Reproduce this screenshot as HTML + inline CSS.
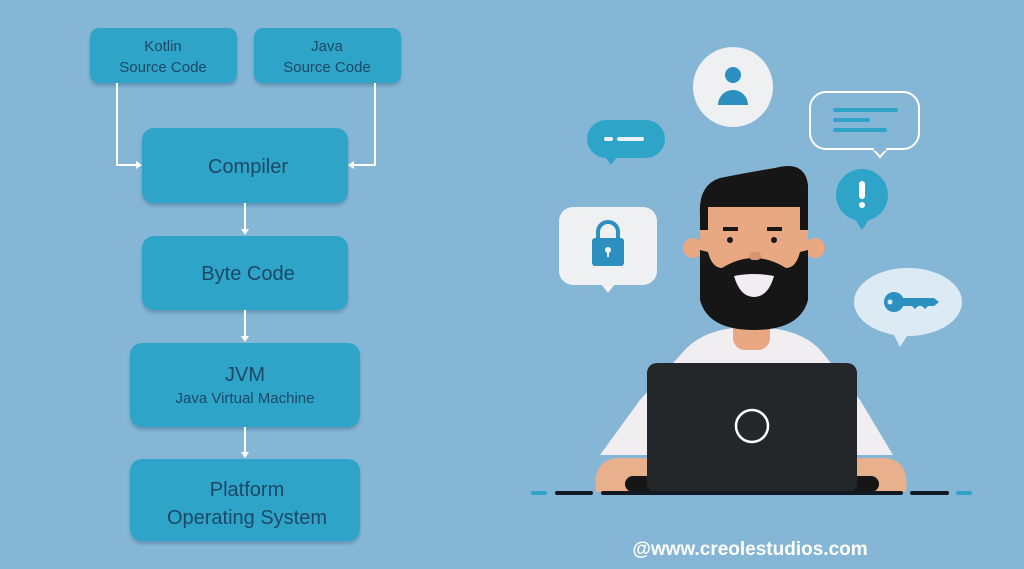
<!DOCTYPE html>
<html><head><meta charset="utf-8"><style>
html,body{margin:0;padding:0;background:#86b6d6;}
svg{display:block}
text{font-family:"Liberation Sans",sans-serif;}
</style></head><body>
<svg width="1024" height="569" viewBox="0 0 1024 569" xmlns="http://www.w3.org/2000/svg">
<rect width="1024" height="569" fill="#86b6d6"/>
<defs>
<filter id="sh" x="-10%" y="-10%" width="120%" height="130%"><feDropShadow dx="0" dy="3" stdDeviation="1.5" flood-color="#3a6f8f" flood-opacity="0.45"/></filter>
</defs>
<g fill="#2ea5c8" filter="url(#sh)">
<rect x="90" y="28" width="147" height="55" rx="9"/>
<rect x="254" y="28" width="147" height="55" rx="9"/>
<rect x="142" y="128" width="206" height="75" rx="12"/>
<rect x="142" y="236" width="206" height="74" rx="12"/>
<rect x="130" y="343" width="230" height="84" rx="12"/>
<rect x="130" y="459" width="230" height="82" rx="12"/>
</g>
<g fill="#1c4866" text-anchor="middle">
<text x="163" y="51" font-size="15">Kotlin</text>
<text x="163" y="72" font-size="15">Source Code</text>
<text x="327" y="51" font-size="15">Java</text>
<text x="327" y="72" font-size="15">Source Code</text>
<text x="248" y="173" font-size="20">Compiler</text>
<text x="248" y="280" font-size="20">Byte Code</text>
<text x="245" y="381" font-size="20">JVM</text>
<text x="245" y="403" font-size="15">Java Virtual Machine</text>
<text x="247" y="496" font-size="20">Platform</text>
<text x="247" y="524" font-size="20">Operating System</text>
</g>
<g stroke="#fff" stroke-width="2" fill="none">
<polyline points="117,83 117,165 138,165"/>
<polyline points="375,83 375,165 352,165"/>
<line x1="245" y1="203" x2="245" y2="231"/>
<line x1="245" y1="310" x2="245" y2="338"/>
<line x1="245" y1="427" x2="245" y2="454"/>
</g>
<g fill="#fff">
<polygon points="142,165 136,161 136,169"/>
<polygon points="348,165 354,161 354,169"/>
<polygon points="245,235 241,229 249,229"/>
<polygon points="245,342 241,336 249,336"/>
<polygon points="245,458 241,452 249,452"/>
</g>
<circle cx="733" cy="87" r="40" fill="#eef0f2"/>
<circle cx="733" cy="75" r="8" fill="#2b8fc0"/>
<path d="M718,105 a15,15 0 0 1 30,0 z" fill="#2b8fc0"/>
<rect x="587" y="120" width="78" height="38" rx="19" fill="#2ea5c8"/>
<polygon points="605,157 617,157 611,165" fill="#2ea5c8"/>
<rect x="604" y="137" width="9" height="4" rx="2" fill="#eaf3f7"/>
<rect x="617" y="137" width="27" height="4" rx="2" fill="#eaf3f7"/>
<rect x="810" y="92" width="109" height="57" rx="16" fill="none" stroke="#fff" stroke-width="2"/>
<polygon points="873,149 887,149 880,157" fill="#86b6d6" stroke="#fff" stroke-width="2"/>
<rect x="874" y="148" width="12" height="3" fill="#86b6d6"/>
<g stroke="#2ea5c8" stroke-width="4" stroke-linecap="round">
<line x1="835" y1="110" x2="896" y2="110"/>
<line x1="835" y1="120" x2="868" y2="120"/>
<line x1="835" y1="130" x2="885" y2="130"/>
</g>
<circle cx="862" cy="195" r="26" fill="#2ea5c8"/>
<polygon points="854,218 870,218 862,230" fill="#2ea5c8"/>
<rect x="859" y="181" width="6" height="18" rx="3" fill="#fff"/>
<circle cx="862" cy="205" r="3" fill="#fff"/>
<rect x="559" y="207" width="98" height="78" rx="14" fill="#eef0f2"/>
<polygon points="601,284 615,284 608,293" fill="#eef0f2"/>
<path d="M598,238 v-6 a10,10 0 0 1 20,0 v6" fill="none" stroke="#2b8fc0" stroke-width="4"/>
<rect x="592" y="238" width="32" height="28" rx="3" fill="#2b8fc0"/>
<circle cx="608" cy="250" r="3" fill="#eef0f2"/>
<rect x="607" y="250" width="2" height="7" fill="#eef0f2"/>
<ellipse cx="908" cy="302" rx="54" ry="34" fill="#dceaf4"/>
<polygon points="893,333 909,333 900,347" fill="#dceaf4"/>
<circle cx="894" cy="302" r="10" fill="#2b8fc0"/>
<circle cx="890" cy="302" r="2.5" fill="#dceaf4"/>
<polygon points="902,298 934,298 939,302 934,306 928,306 925,309 922,306 918,306 915,309 912,306 902,306" fill="#2b8fc0"/>
<path d="M683,352 Q700,332 733,328 L770,328 Q805,332 822,352 L860,400 L893,455 L600,455 L640,400 Z" fill="#f1eef2"/>
<rect x="733" y="300" width="37" height="50" rx="12" fill="#e8a882"/>
<circle cx="693" cy="248" r="10" fill="#e8a882"/>
<circle cx="815" cy="248" r="10" fill="#e8a882"/>
<rect x="700" y="195" width="108" height="110" rx="14" fill="#e8a882"/>
<path d="M700,215 Q698,185 720,178 Q750,172 775,168 Q805,160 808,185 L808,230 L800,230 L800,207 L708,207 L708,230 L700,230 Z" fill="#161616"/>
<path d="M700,250 L708,252 Q712,268 722,268 Q738,258 754,258 Q770,258 786,268 Q796,268 800,252 L808,250 L808,300 Q800,330 754,330 Q708,330 700,300 Z" fill="#161616"/>
<path d="M734,276 Q754,272 774,276 Q768,297 754,297 Q740,297 734,276 Z" fill="#f1eef2"/>
<rect x="749" y="252" width="12" height="8" rx="4" fill="#d99373"/>
<rect x="723" y="227" width="15" height="4" fill="#161616"/>
<rect x="767" y="227" width="15" height="4" fill="#161616"/>
<circle cx="730" cy="240" r="3" fill="#161616"/>
<circle cx="774" cy="240" r="3" fill="#161616"/>
<path d="M596,492 Q592,462 615,458 L650,458 L650,492 Z" fill="#e8b08c"/>
<path d="M906,492 Q910,462 887,458 L852,458 L852,492 Z" fill="#e8b08c"/>
<rect x="625" y="476" width="254" height="16" rx="8" fill="#161616"/>
<rect x="647" y="363" width="210" height="130" rx="10" fill="#23272a"/>
<circle cx="752" cy="426" r="16" fill="none" stroke="#fff" stroke-width="2.5"/>
<g stroke-width="4" stroke-linecap="round">
<line x1="533" y1="493" x2="545" y2="493" stroke="#2ea5c8"/>
<line x1="557" y1="493" x2="591" y2="493" stroke="#111a24"/>
<line x1="603" y1="493" x2="901" y2="493" stroke="#111a24"/>
<line x1="912" y1="493" x2="947" y2="493" stroke="#111a24"/>
<line x1="958" y1="493" x2="970" y2="493" stroke="#2ea5c8"/>
</g>
<text x="750" y="555" font-size="19" font-weight="bold" fill="#fff" text-anchor="middle">@www.creolestudios.com</text>
</svg>
</body></html>
